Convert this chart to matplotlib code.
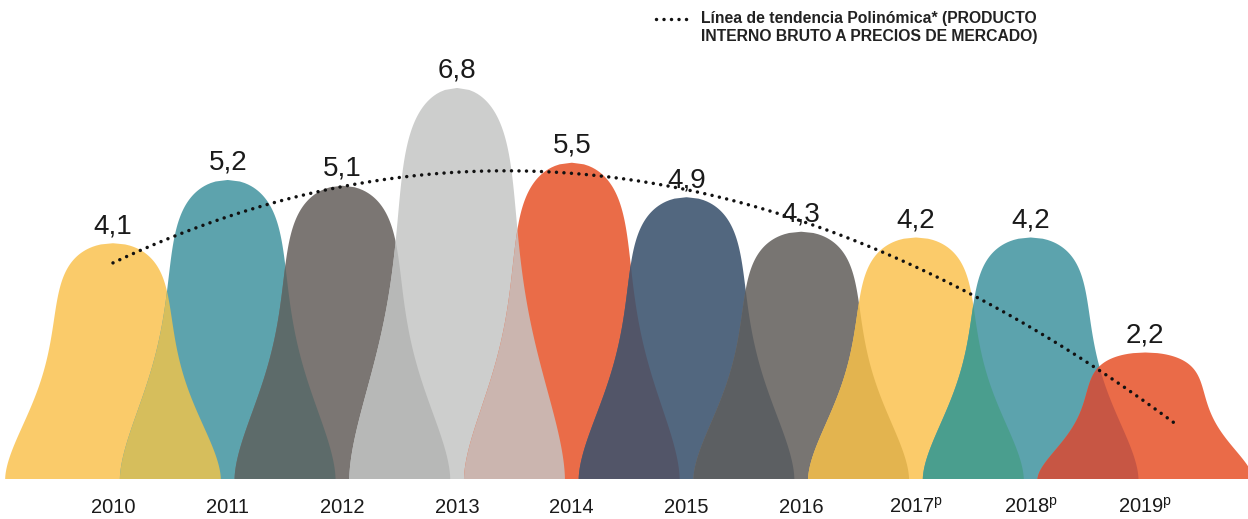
import numpy as np
import matplotlib.pyplot as plt
from matplotlib.path import Path
from matplotlib.patches import PathPatch
from matplotlib.lines import Line2D

plt.rcParams['font.family'] = ['Liberation Sans', 'DejaVu Sans']
plt.rcParams['mathtext.fontset'] = 'custom'
plt.rcParams['mathtext.rm'] = 'Liberation Sans'

# PIB a precios de mercado (variacion %)
years = ['2010', '2011', '2012', '2013', '2014', '2015', '2016',
         '2017$^{\\mathrm{p}}$', '2018$^{\\mathrm{p}}$', '2019$^{\\mathrm{p}}$']
pib = [4.1, 5.2, 5.1, 6.8, 5.5, 4.9, 4.3, 4.2, 4.2, 2.2]

# dotted trend line (year index, value)
trend_x = [0, 1, 2, 3, 4, 5, 6, 7, 8, 9.25]
trend_y = [3.72, 4.64, 5.07, 5.32, 5.29, 5.03, 4.50, 3.70, 2.64, 0.97]

colors = ['#FACB6A', '#5DA3AD', '#7B7673', '#CDCECD', '#EA6C48',
          '#52677F', '#787572', '#FBCB6A', '#5CA3AD', '#EA6B48']
# colour where bell i and bell i+1 overlap
overlap = ['#D6BE5C', '#5D6B6A', '#B7B8B7', '#CBB5AF', '#525568',
           '#5C5F62', '#E3B44F', '#4A9E8E', '#C75644']


def bell(cx, h):
    # round dome on top, flared foot at the base
    f = np.linspace(0, 1, 200)
    u = 0.49 * np.sqrt(np.clip(1 - f ** 9, 0, 1)) + 0.45 * np.exp(-(f / 0.38) ** 1.7)
    xs = np.concatenate([cx + u, (cx - u)[::-1]])
    ys = np.concatenate([h * f, (h * f)[::-1]])
    verts = np.column_stack([xs, ys])
    return Path(np.vstack([verts, verts[:1]]), closed=True)


fig = plt.figure(figsize=(12.48, 5.19), dpi=100)
ax = fig.add_axes([0, 40 / 519, 1, 479 / 519])
ax.set_xlim(-0.985, 9.895)
ax.set_ylim(0, 479 / 57.5)
ax.axis('off')

patches = []
for i, v in enumerate(pib):
    p = PathPatch(bell(i, v), facecolor=colors[i], edgecolor='none', zorder=1)
    ax.add_patch(p)
    patches.append(p)

for i in range(len(pib) - 1):
    p = PathPatch(bell(i + 1, pib[i + 1]), facecolor=overlap[i],
                  edgecolor='none', zorder=2)
    ax.add_patch(p)
    p.set_clip_path(patches[i])

# polynomial trend
coef = np.polyfit(trend_x, trend_y, 3)
xs = np.linspace(trend_x[0], trend_x[-1], 300)
ax.plot(xs, np.polyval(coef, xs), color='#111111', lw=2.5,
        dashes=(0.01, 2.15), dash_capstyle='round', zorder=5)

for i, v in enumerate(pib):
    ax.annotate(f'{v:.1f}'.replace('.', ','), (i, v), xytext=(0, 3),
                textcoords='offset points', ha='center', va='bottom',
                fontsize=20, color='#1a1a1a', zorder=6)
    ax.text(i, -34 / 479, years[i], transform=ax.get_xaxis_transform(),
            ha='center', va='baseline', fontsize=14.5, color='#1a1a1a')

# legend
fig.add_artist(Line2D([656 / 1248, 690 / 1248], [1 - 19 / 519] * 2,
                      transform=fig.transFigure, color='#111111', lw=2.5,
                      dashes=(0.01, 2.15), dash_capstyle='round'))
fig.text(701 / 1248, 1 - 19 / 519, 'Línea de tendencia Polinómica* (PRODUCTO',
         ha='left', va='center', fontsize=11.3, fontweight='bold', color='#222222')
fig.text(701 / 1248, 1 - 37 / 519, 'INTERNO BRUTO A PRECIOS DE MERCADO)',
         ha='left', va='center', fontsize=11.3, fontweight='bold', color='#222222')

fig.savefig('out.png', dpi=100)
